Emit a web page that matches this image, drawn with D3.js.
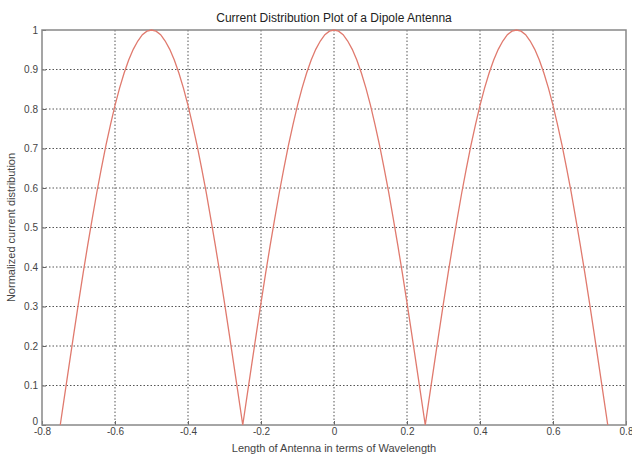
<!DOCTYPE html>
<html>
<head>
<meta charset="utf-8">
<script src="https://cdn.jsdelivr.net/npm/d3@7"></script>
<style>
  body { margin: 0; background: #fff; }
  svg text { font-family: "Liberation Sans", Arial, sans-serif; }
</style>
</head>
<body>
<div id="chart"></div>
<script>
// valors llegits de la grafica (pas 0.0125)
const longitud = [
  -0.75, -0.7375, -0.725, -0.7125, -0.7, -0.6875, -0.675, -0.6625, -0.65, -0.6375,
  -0.625, -0.6125, -0.6, -0.5875, -0.575, -0.5625, -0.55, -0.5375, -0.525, -0.5125,
  -0.5, -0.4875, -0.475, -0.4625, -0.45, -0.4375, -0.425, -0.4125, -0.4, -0.3875,
  -0.375, -0.3625, -0.35, -0.3375, -0.325, -0.3125, -0.3, -0.2875, -0.275, -0.2625,
  -0.25, -0.2375, -0.225, -0.2125, -0.2, -0.1875, -0.175, -0.1625, -0.15, -0.1375,
  -0.125, -0.1125, -0.1, -0.0875, -0.075, -0.0625, -0.05, -0.0375, -0.025, -0.0125,
  0, 0.0125, 0.025, 0.0375, 0.05, 0.0625, 0.075, 0.0875, 0.1, 0.1125,
  0.125, 0.1375, 0.15, 0.1625, 0.175, 0.1875, 0.2, 0.2125, 0.225, 0.2375,
  0.25, 0.2625, 0.275, 0.2875, 0.3, 0.3125, 0.325, 0.3375, 0.35, 0.3625,
  0.375, 0.3875, 0.4, 0.4125, 0.425, 0.4375, 0.45, 0.4625, 0.475, 0.4875,
  0.5, 0.5125, 0.525, 0.5375, 0.55, 0.5625, 0.575, 0.5875, 0.6, 0.6125,
  0.625, 0.6375, 0.65, 0.6625, 0.675, 0.6875, 0.7, 0.7125, 0.725, 0.7375, 0.75
];
const corrent = [
  0, 0.078, 0.156, 0.233, 0.309, 0.383, 0.454, 0.522, 0.588, 0.649,
  0.707, 0.760, 0.809, 0.853, 0.891, 0.924, 0.951, 0.972, 0.988, 0.997,
  1, 0.997, 0.988, 0.972, 0.951, 0.924, 0.891, 0.853, 0.809, 0.760,
  0.707, 0.649, 0.588, 0.522, 0.454, 0.383, 0.309, 0.233, 0.156, 0.078,
  0, 0.078, 0.156, 0.233, 0.309, 0.383, 0.454, 0.522, 0.588, 0.649,
  0.707, 0.760, 0.809, 0.853, 0.891, 0.924, 0.951, 0.972, 0.988, 0.997,
  1, 0.997, 0.988, 0.972, 0.951, 0.924, 0.891, 0.853, 0.809, 0.760,
  0.707, 0.649, 0.588, 0.522, 0.454, 0.383, 0.309, 0.233, 0.156, 0.078,
  0, 0.078, 0.156, 0.233, 0.309, 0.383, 0.454, 0.522, 0.588, 0.649,
  0.707, 0.760, 0.809, 0.853, 0.891, 0.924, 0.951, 0.972, 0.988, 0.997,
  1, 0.997, 0.988, 0.972, 0.951, 0.924, 0.891, 0.853, 0.809, 0.760,
  0.707, 0.649, 0.588, 0.522, 0.454, 0.383, 0.309, 0.233, 0.156, 0.078, 0
];
const ticksX = [-0.8, -0.6, -0.4, -0.2, 0, 0.2, 0.4, 0.6, 0.8];
const ticksY = [0, 0.1, 0.2, 0.3, 0.4, 0.5, 0.6, 0.7, 0.8, 0.9, 1];

const dades = longitud.map((x, i) => ({ x: x, y: corrent[i] }));

// Dimensions i marges
const W = 632, H = 454;
const margin = { top: 30, right: 6, bottom: 29, left: 42 };
const width = W - margin.left - margin.right;
const height = H - margin.top - margin.bottom;

const svg = d3.select("#chart")
    .append("svg")
        .attr("width", W)
        .attr("height", H)
    .append("g")
        .attr("transform", `translate(${margin.left}, ${margin.top})`);

const x = d3.scaleLinear().domain([-0.8, 0.8]).range([0, width]);
const y = d3.scaleLinear().domain([0, 1]).range([height, 0]);

// format amb guionet normal, com a MATLAB
const fmt = d => String(+d.toFixed(1));

// Graella
svg.append("g")
    .selectAll("line")
    .data(ticksX.slice(1, -1))
    .enter()
    .append("line")
        .attr("x1", d => x(d)).attr("x2", d => x(d))
        .attr("y1", 0).attr("y2", height)
        .attr("stroke", "#555")
        .attr("stroke-width", 1)
        .attr("stroke-dasharray", "1.5,2");

svg.append("g")
    .selectAll("line")
    .data(ticksY.slice(1, -1))
    .enter()
    .append("line")
        .attr("x1", 0).attr("x2", width)
        .attr("y1", d => y(d)).attr("y2", d => y(d))
        .attr("stroke", "#555")
        .attr("stroke-width", 1)
        .attr("stroke-dasharray", "1.5,2");

// Eixos
const eixX = svg.append("g")
    .attr("transform", `translate(0, ${height})`)
    .call(d3.axisBottom(x).tickValues(ticksX).tickFormat(fmt).tickSizeInner(-4).tickSizeOuter(0).tickPadding(4));
const eixY = svg.append("g")
    .call(d3.axisLeft(y).tickValues(ticksY).tickFormat(fmt).tickSizeInner(-4).tickSizeOuter(0).tickPadding(4));

[eixX, eixY].forEach(g => {
    g.select(".domain").remove();
    g.selectAll("line").attr("stroke", "#666");
    g.selectAll("text")
        .style("font-size", "10px")
        .style("fill", "#444");
});
eixX.selectAll("text").attr("dy", "0.6em");
// el 0 de l'eix Y una mica amunt
eixY.selectAll(".tick text").filter(d => d === 0).attr("dy", "-0.05em");

// Marc
svg.append("rect")
    .attr("x", 0).attr("y", 0)
    .attr("width", width).attr("height", height)
    .attr("fill", "none")
    .attr("stroke", "#888")
    .attr("stroke-width", 1.5);

// Linia
const line = d3.line()
    .x(d => x(d.x))
    .y(d => y(d.y));

svg.append("path")
    .datum(dades)
    .attr("d", line)
    .attr("fill", "none")
    .attr("stroke", "#e07a6e")
    .attr("stroke-width", 1.3);

// Titols
svg.append("text")
    .attr("x", width / 2)
    .attr("y", -8)
    .attr("text-anchor", "middle")
    .style("font-size", "12px")
    .style("fill", "#222")
    .text("Current Distribution Plot of a Dipole Antenna");

svg.append("text")
    .attr("x", width / 2)
    .attr("y", height + 27)
    .attr("text-anchor", "middle")
    .style("font-size", "11px")
    .style("fill", "#444")
    .text("Length of Antenna in terms of Wavelength");

svg.append("text")
    .attr("transform", "rotate(-90)")
    .attr("x", -height / 2)
    .attr("y", -27)
    .attr("text-anchor", "middle")
    .style("font-size", "11px")
    .style("fill", "#444")
    .text("Normalized current distribution");
</script>
</body>
</html>
